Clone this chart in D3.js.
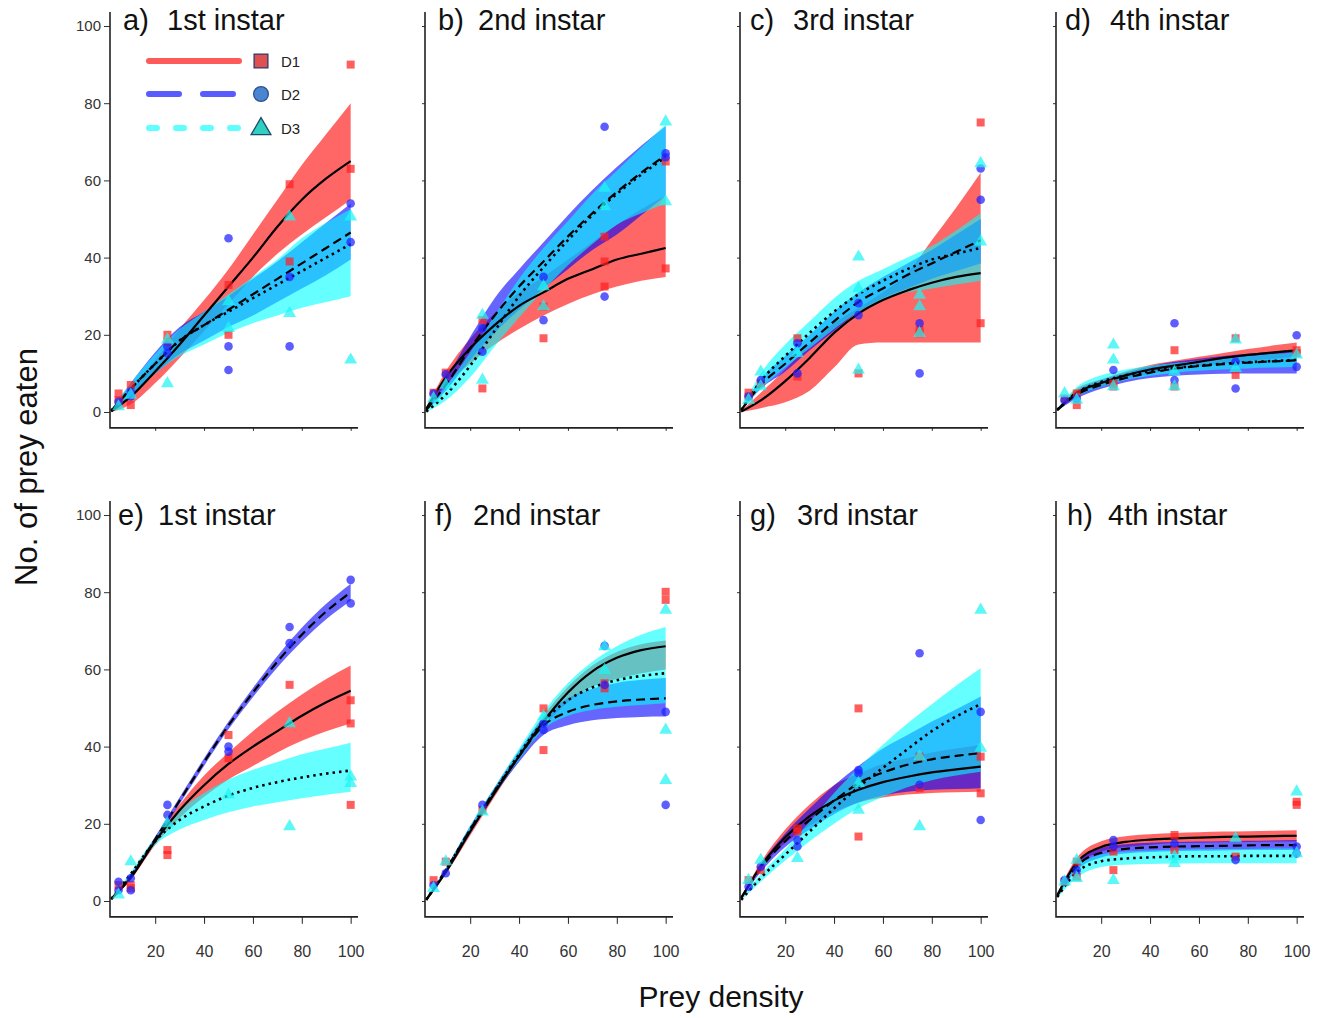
<!DOCTYPE html>
<html>
<head>
<meta charset="utf-8">
<script src="https://cdn.jsdelivr.net/npm/d3@7"></script>
<style>
body{margin:0;background:#fff}
text{font-family:"Liberation Sans",Arial,Helvetica,sans-serif}
</style>
</head>
<body>
<svg id="chart" width="1327" height="1018"></svg>
<script>
var seriesNames = ["D1","D2","D3"]
var panelLabels = ["a)","b)","c)","d)","e)","f)","g)","h)"]
var instars = ["1st instar","2nd instar","3rd instar","4th instar","1st instar","2nd instar","3rd instar","4th instar"]
var yTicks = [0,20,40,60,80,100]
var xTicks = [20,40,60,80,100]
var gridX = [2,10,20,30,40,50,60,70,80,90,100]

// fitted curves: [D1, D2, D3]
var meanA = [[0.2,4,10.5,17.5,25,32.5,40,48,55,60.5,65],[0.3,6,12.5,18.5,22.5,26.5,30.5,34.5,38.5,42.5,46.5],[0.3,6,12.5,18.5,22.5,26,29.5,33,36.5,40,43.5]]
var loA = [[0,2,7.5,14,21,28,35,41,46,50.5,55],[0,4.5,10,15,18.5,22,25,28.5,32,35.5,39.5],[0,4.5,10,14.5,17.5,20.5,23,25,27,28.5,30]]
var hiA = [[0.5,5.5,13.5,21.5,29,37,46,55,64,72,80],[0.6,7.5,15.5,22,26,30,34.5,39,44,49,54],[0.6,7.5,15,21.5,26,30.5,35,39.5,45,49,52.5]]

var meanB = [[0.8,9,16.5,22.5,27.5,31,34.5,37,39.5,41,42.5],[0.5,7,16.5,25,32.5,39,45.5,51.5,57,62,66.5],[0.1,4.5,12,21,30,37.5,44.5,51,56.5,61.5,66]]
var loB = [[0.3,7,12.5,17.5,21.5,25,28,30.5,32.5,34,35],[0.2,5.5,13.5,20.5,26.5,32,37,42,46,51,56],[0,3,9,17,24.5,31.5,38,43.5,48.5,51.5,54]]
var hiB = [[1.2,10.5,19,25.5,31,35,39.5,44,48.5,52.5,56],[0.8,8.5,19.5,29.5,37,44,51,57.5,63.5,69,74],[0.4,6.5,15.5,25,34.5,42.5,49.5,56.5,62.5,68.5,74.5]]

var meanC = [[0.1,3,8,14,20.5,25.5,29,31.5,33.5,35,36],[0.5,7,12.5,18,23.5,28.5,32,35.5,38.5,41.5,44.5],[0.5,8,14.5,20.5,26,30.5,34,37,39.5,41,42.5]]
var loC = [[0,1,2.5,5.5,11.5,17.5,18,18,18,18,18],[0.2,6,10.5,16,21,26,29.5,32,34.5,36.5,38.5],[0.2,6,11.5,16.5,21.5,26,29,31,32,33,34]]
var hiC = [[0.3,5,11,17.5,23,27,31,36,44.5,53,62],[0.8,8.5,14.5,20,26,31,35,38.5,42,46,50],[0.8,10,17.5,23.5,29.5,34,37,40,43,47,51.5]]

var meanD = [[0.5,5,7.5,9.5,11,12,13,14,14.8,15.4,16],[0.5,4.5,7,8.8,10.2,11.2,11.9,12.4,12.8,13.1,13.4],[0.6,5,7.8,9.5,10.6,11.4,12,12.5,12.9,13.2,13.5]]
var loD = [[0.3,4,6.5,8.5,10,11,11.8,12.5,13.2,13.8,14.3],[0.3,3.5,6,7.7,8.8,9.4,9.7,9.9,10,10,10],[0.3,4,6.5,8.3,9.4,10.2,10.7,11,11.3,11.5,11.7]]
var hiD = [[0.8,6,8.5,10.5,12.2,13.3,14.3,15.3,16.3,17.2,18],[0.8,5.5,8.3,10.2,11.8,13,13.8,14.5,15.1,15.6,16],[1,6.5,9.5,11,12,12.7,13.3,13.9,14.5,15,15.5]]

var meanE = [[0.5,6,15.5,23.5,30,35.5,40,44,48,51.5,54.5],[0.5,6.5,16,26,36,45.5,54,62,69,75,80],[0.5,7,15.5,21,24.5,27.3,29.3,30.8,32,33,33.8]]
var loE = [[0.4,5.5,14.5,21.5,27,31.5,35,38.5,41.5,44,46],[0.3,6,15.3,25.1,35,44.5,52.8,60.5,67.2,73,77.8],[0.4,6.5,14.5,18.5,21,23,24.5,25.6,26.6,27.5,28.3]]
var hiE = [[0.6,6.5,16.5,25,32.5,38.5,44,49,53.5,57.5,61],[0.7,7,16.7,26.9,37,46.5,55.2,63.5,70.8,77,82.2],[0.6,7.5,16.5,23.5,28,31.5,34,36,38,39.5,41]]

var meanF = [[0.3,7.5,18,28,37.5,46.5,54,59.5,63,65,66],[0.3,8,18.5,28.5,37.5,45.5,49,50.8,51.7,52.2,52.5],[0.3,8,18.5,28.5,38,46.5,52,55.3,57.2,58.3,59]]
var loF = [[0.2,7,17,27,36.5,45,51.5,55.5,57.5,59,60]
    ,[0.2,7.5,17.5,27.5,36,43,45.5,46.8,47.4,47.7,47.8],[0.2,7.5,17.5,27.5,36.5,44.5,48,49.5,50.3,50.8,51.2]]
var hiF = [[0.4,8,19,29,38.5,48,55.5,61,64.5,66.5,67.5],[0.4,8.5,19.5,29.5,39,47.5,52.5,55,56.5,57.3,57.8],[0.4,8.5,19.5,29.5,39.5,49,56.5,62,66,69,71]]

var meanG = [[0.8,9,16.5,22,26,28.8,30.8,32.2,33.3,34.1,34.8],[0.8,8.5,15.5,21,26,30.5,33.3,35.3,36.7,37.6,38.3],[0.3,6,12,18,24,29.5,34.5,39.3,44,47.8,51]]
var loG = [[0.6,8.5,15,19.5,23,25.5,26.8,27.6,28,28.2,28.3],[0.6,7.5,14,18.5,22.5,25.5,27.3,28.3,28.8,29,29.2],[0.2,5,10.5,15.5,20,24,27,29.5,31.3,32.5,33.5]]
var hiG = [[1,10,18.5,25,30,33,35.5,37,38.5,39.5,40.5],[1,9.5,17.5,24,30,35,39.5,43,46.5,49.7,53],[0.5,7,13.5,20.5,28,34.5,40.5,46,51,55.8,60.3]]

var meanH = [[1.5,10,14,15.3,15.9,16.2,16.4,16.6,16.7,16.8,16.9],[1.3,9,12.5,13.5,13.9,14.1,14.2,14.3,14.4,14.5,14.5],[1,7.5,10.3,11,11.3,11.5,11.6,11.6,11.7,11.7,11.7]]
var loH = [[1.2,9,12.8,14,14.6,15,15.1,15.2,15.3,15.4,15.4],[1,8,11.3,12.3,12.7,12.9,13,13.1,13.2,13.2,13.2],[0.7,6,8.8,9.4,9.6,9.7,9.8,9.8,9.8,9.8,9.8]]
var hiH = [[1.8,11.2,15.5,16.8,17.3,17.6,17.8,18,18.1,18.2,18.3],[1.6,10,13.7,14.7,15.1,15.3,15.4,15.5,15.6,15.7,15.8],[1.3,9,12,12.8,13.1,13.3,13.4,13.5,13.5,13.6,13.6]]

// observed [density, eaten], per series D1, D2, D3
var ptsA = [
  [[5,4.8],[5,3.1],[10,7],[10,1.8],[25,20],[25,18.2],[50,32.9],[50,20],[75,59],[75,39],[100,90],[100,63]],
  [[5,2.7],[10,5.3],[10,4],[25,17],[25,15.2],[50,45],[50,17],[50,10.9],[75,35],[75,17],[100,54],[100,44]],
  [[5,1.4],[10,4.4],[25,18.7],[25,7.4],[50,28.6],[50,21.7],[75,50.6],[75,25.6],[100,50.6],[100,13.5]]]
var ptsB = [
  [[5,5],[10,10.2],[25,23.8],[25,6.1],[50,27.3],[50,19.1],[75,45.4],[75,39],[75,32.5],[100,64.9],[100,37.2]],
  [[5,4.8],[10,9.8],[25,21.7],[25,15.6],[50,35],[50,23.8],[75,73.9],[75,29.9],[100,67],[100,66]],
  [[5,3.5],[10,7],[25,25.1],[25,8.3],[50,32.5],[50,27.3],[75,58],[75,53.2],[100,75.2],[100,54.5]]]
var ptsC = [
  [[5,5],[5,4],[10,7.4],[25,19.1],[25,9.2],[50,10],[75,21.2],[75,20.4],[100,75],[100,23]],
  [[5,4],[10,8.3],[25,17.8],[25,10],[50,28.2],[50,25.1],[75,23],[75,10],[100,63.1],[100,55]],
  [[5,3.1],[10,10.4],[10,6.6],[25,15.2],[50,40.2],[50,32],[50,10.9],[75,30.3],[75,27.3],[75,20.4],[100,64.4],[100,44.1]]]
var ptsD = [
  [[5,3.5],[10,4.8],[10,1.8],[25,6.6],[25,7.4],[50,16],[50,6.6],[75,19.1],[75,9.6],[100,16],[100,15.2]],
  [[5,3.1],[10,3.5],[25,10.9],[50,23],[50,8.3],[75,13],[75,6.1],[100,19.9],[100,11.7]],
  [[5,4.8],[10,3.1],[25,17.4],[25,13.5],[25,6.6],[50,10.4],[50,6.6],[75,18.7],[75,11.3],[100,14.8]]]
var ptsE = [
  [[5,4.1],[10,4.1],[10,3.3],[25,13.2],[25,11.9],[50,43],[50,37],[75,56],[100,52],[100,46],[100,24.9]],
  [[5,5],[5,2.8],[10,5.9],[10,2.8],[25,24.9],[25,22.3],[50,40],[50,38.7],[75,71],[75,66.8],[100,83.2],[100,77.1]],
  [[5,1.6],[10,10.2],[25,20.1],[50,27.5],[75,46],[75,19.3],[100,32.2],[100,30.5]]]
var ptsF = [
  [[5,5.4],[10,10.2],[25,23.6],[50,49.9],[50,39.1],[75,55.1],[75,56.4],[100,80.1],[100,78]],
  [[5,4.1],[10,7.2],[25,24.9],[50,46],[50,44.3],[75,66.1],[75,56],[100,49],[100,24.9]],
  [[5,3.3],[10,10.2],[25,23.1],[50,47.8],[75,65.9],[75,59.8],[100,75.4],[100,44.3],[100,31.3]]]
var ptsG = [
  [[5,5.4],[10,8],[25,18.8],[25,18],[50,49.9],[50,16.7],[75,37.4],[75,29.2],[100,37.4],[100,27.9]],
  [[5,3.7],[10,8.9],[25,15.8],[25,14.1],[50,33.9],[50,33.1],[75,64.2],[75,30.1],[100,49],[100,21]],
  [[5,5.4],[10,10.6],[25,11.1],[50,30.5],[50,23.6],[75,37.4],[75,19.3],[100,75.4],[100,39.6]]]
var ptsH = [
  [[5,5],[10,10.2],[10,6.3],[25,8],[25,12.8],[50,17.1],[50,13.2],[75,11.5],[100,25.7],[100,24.9]],
  [[5,5.4],[10,8],[25,15.8],[25,14.1],[50,14.9],[75,10.6],[100,14.1],[100,12.3]],
  [[5,5],[10,10.6],[10,5.9],[25,5.4],[50,11.5],[50,9.8],[75,16.2],[100,28.3],[100,12.3]]]

var means = [meanA,meanB,meanC,meanD,meanE,meanF,meanG,meanH]
var los = [loA,loB,loC,loD,loE,loF,loG,loH]
var his = [hiA,hiB,hiC,hiD,hiE,hiF,hiG,hiH]
var points = [ptsA,ptsB,ptsC,ptsD,ptsE,ptsF,ptsG,ptsH]

var bandColors = ["#ff0000","#0000ff","#00ffff"]
var pointColors = ["#ff2020","#2020ff","#20f4f4"]
var dashes = [null,"9,5","2.5,4"]

var svg = d3.select("#chart")
var colX = [110,425,740,1056]
var rowY = [0,489]
var labOff = [13,13,10,9,8,10,10,11]
var titleOff = [57,53,53,54,48,48,57,52]

var xScale = d3.scaleLinear().domain([1.5,103]).range([0,248])
var yScale = d3.scaleLinear().domain([0,100]).range([412,26])

var line = d3.line().curve(d3.curveMonotoneX)
    .x(function(d){return xScale(d[0])})
    .y(function(d){return yScale(d[1])})
var area = d3.area().curve(d3.curveMonotoneX)
    .x(function(d){return xScale(d[0])})
    .y0(function(d){return yScale(d[1])})
    .y1(function(d){return yScale(d[2])})

var symbols = [d3.symbolSquare,d3.symbolCircle,d3.symbolTriangle]
var symSize = [64,58,72]

panelLabels.forEach(function(lab,p){
    var col = p%4, row = Math.floor(p/4)
    var g = svg.append("g").attr("transform","translate("+colX[col]+","+rowY[row]+")")

    // bands
    for(var s=0;s<3;s++){
        var band = gridX.map(function(x,i){return [x,los[p][s][i],his[p][s][i]]})
        g.append("path").attr("d",area(band))
            .attr("fill",bandColors[s]).attr("fill-opacity",0.6)
    }
    // fitted lines
    for(var s=0;s<3;s++){
        var pts = gridX.map(function(x,i){return [x,means[p][s][i]]})
        g.append("path").attr("d",line(pts))
            .attr("fill","none").attr("stroke","#000")
            .attr("stroke-width",s==2?2.6:2.2)
            .attr("stroke-dasharray",dashes[s])
    }
    // observations
    for(var s=0;s<3;s++){
        g.selectAll(".pt"+s).data(points[p][s]).enter()
            .append("path").attr("class","pt"+s)
            .attr("d",d3.symbol().type(symbols[s]).size(symSize[s]))
            .attr("transform",function(d){return "translate("+xScale(d[0])+","+yScale(d[1])+")"})
            .attr("fill",pointColors[s]).attr("fill-opacity",0.72)
    }

    // axes
    var yAxis = d3.axisLeft(yScale).tickValues(yTicks)
        .tickSize(col==0?6:3).tickPadding(3)
        .tickFormat(col==0?d3.format("d"):"")
    var ya = g.append("g").call(yAxis)
    ya.select(".domain").remove()
    ya.selectAll("text").attr("font-size",15).attr("fill","#333")
        .attr("font-family","Liberation Sans, Arial, sans-serif")
    ya.selectAll("line").attr("stroke","#333")

    var xAxis = d3.axisBottom(xScale).tickValues(xTicks)
        .tickSize(row==1?7:3).tickPadding(22)
        .tickFormat(row==1?d3.format("d"):"")
    var xa = g.append("g").attr("transform","translate(0,"+yScale(-4.1)+")").call(xAxis)
    xa.select(".domain").remove()
    xa.selectAll("text").attr("font-size",16).attr("fill","#333")
        .attr("font-family","Liberation Sans, Arial, sans-serif")
    xa.selectAll("line").attr("stroke","#222")

    g.append("path")
        .attr("d","M0,"+yScale(103.6)+"V"+yScale(-4.1)+"H"+xScale(103))
        .attr("fill","none").attr("stroke","#222").attr("stroke-width",1.6)

    var ty = row==0?30:525
    g.append("text").text(lab).attr("x",labOff[p]).attr("y",ty-rowY[row])
        .attr("font-size",29).attr("fill","#111")
    g.append("text").text(instars[p]).attr("x",titleOff[p]).attr("y",ty-rowY[row])
        .attr("font-size",29).attr("fill","#111")
})

// legend in panel a
var leg = svg.append("g")
seriesNames.forEach(function(name,i){
    var ly = [61,94,128][i]
    leg.append("line").attr("x1",149).attr("x2",239).attr("y1",ly).attr("y2",ly)
        .attr("stroke",["#ff5a5a","#5a5aff","#60ffff"][i]).attr("stroke-width",6)
        .attr("stroke-linecap","round")
        .attr("stroke-dasharray",[null,"30,24","8,19"][i])
    leg.append("path").attr("d",d3.symbol().type(symbols[i]).size([190,170,170][i])())
        .attr("transform","translate(261,"+(ly+(i==2?1:0))+")")
        .attr("fill",["#e05050","#4a86cf","#2fcfc2"][i])
        .attr("stroke",["#2b3a6b","#2b4f8f","#1d4a6b"][i]).attr("stroke-width",1.3)
    leg.append("text").text(name).attr("x",281).attr("y",ly+6)
        .attr("font-size",15).attr("fill","#222")
})

svg.append("text").text("No. of prey eaten")
    .attr("transform","translate(37,467) rotate(-90)")
    .attr("text-anchor","middle").attr("font-size",31).attr("fill","#111")
svg.append("text").text("Prey density")
    .attr("x",721).attr("y",1007)
    .attr("text-anchor","middle").attr("font-size",30).attr("fill","#111")
</script>
</body>
</html>
